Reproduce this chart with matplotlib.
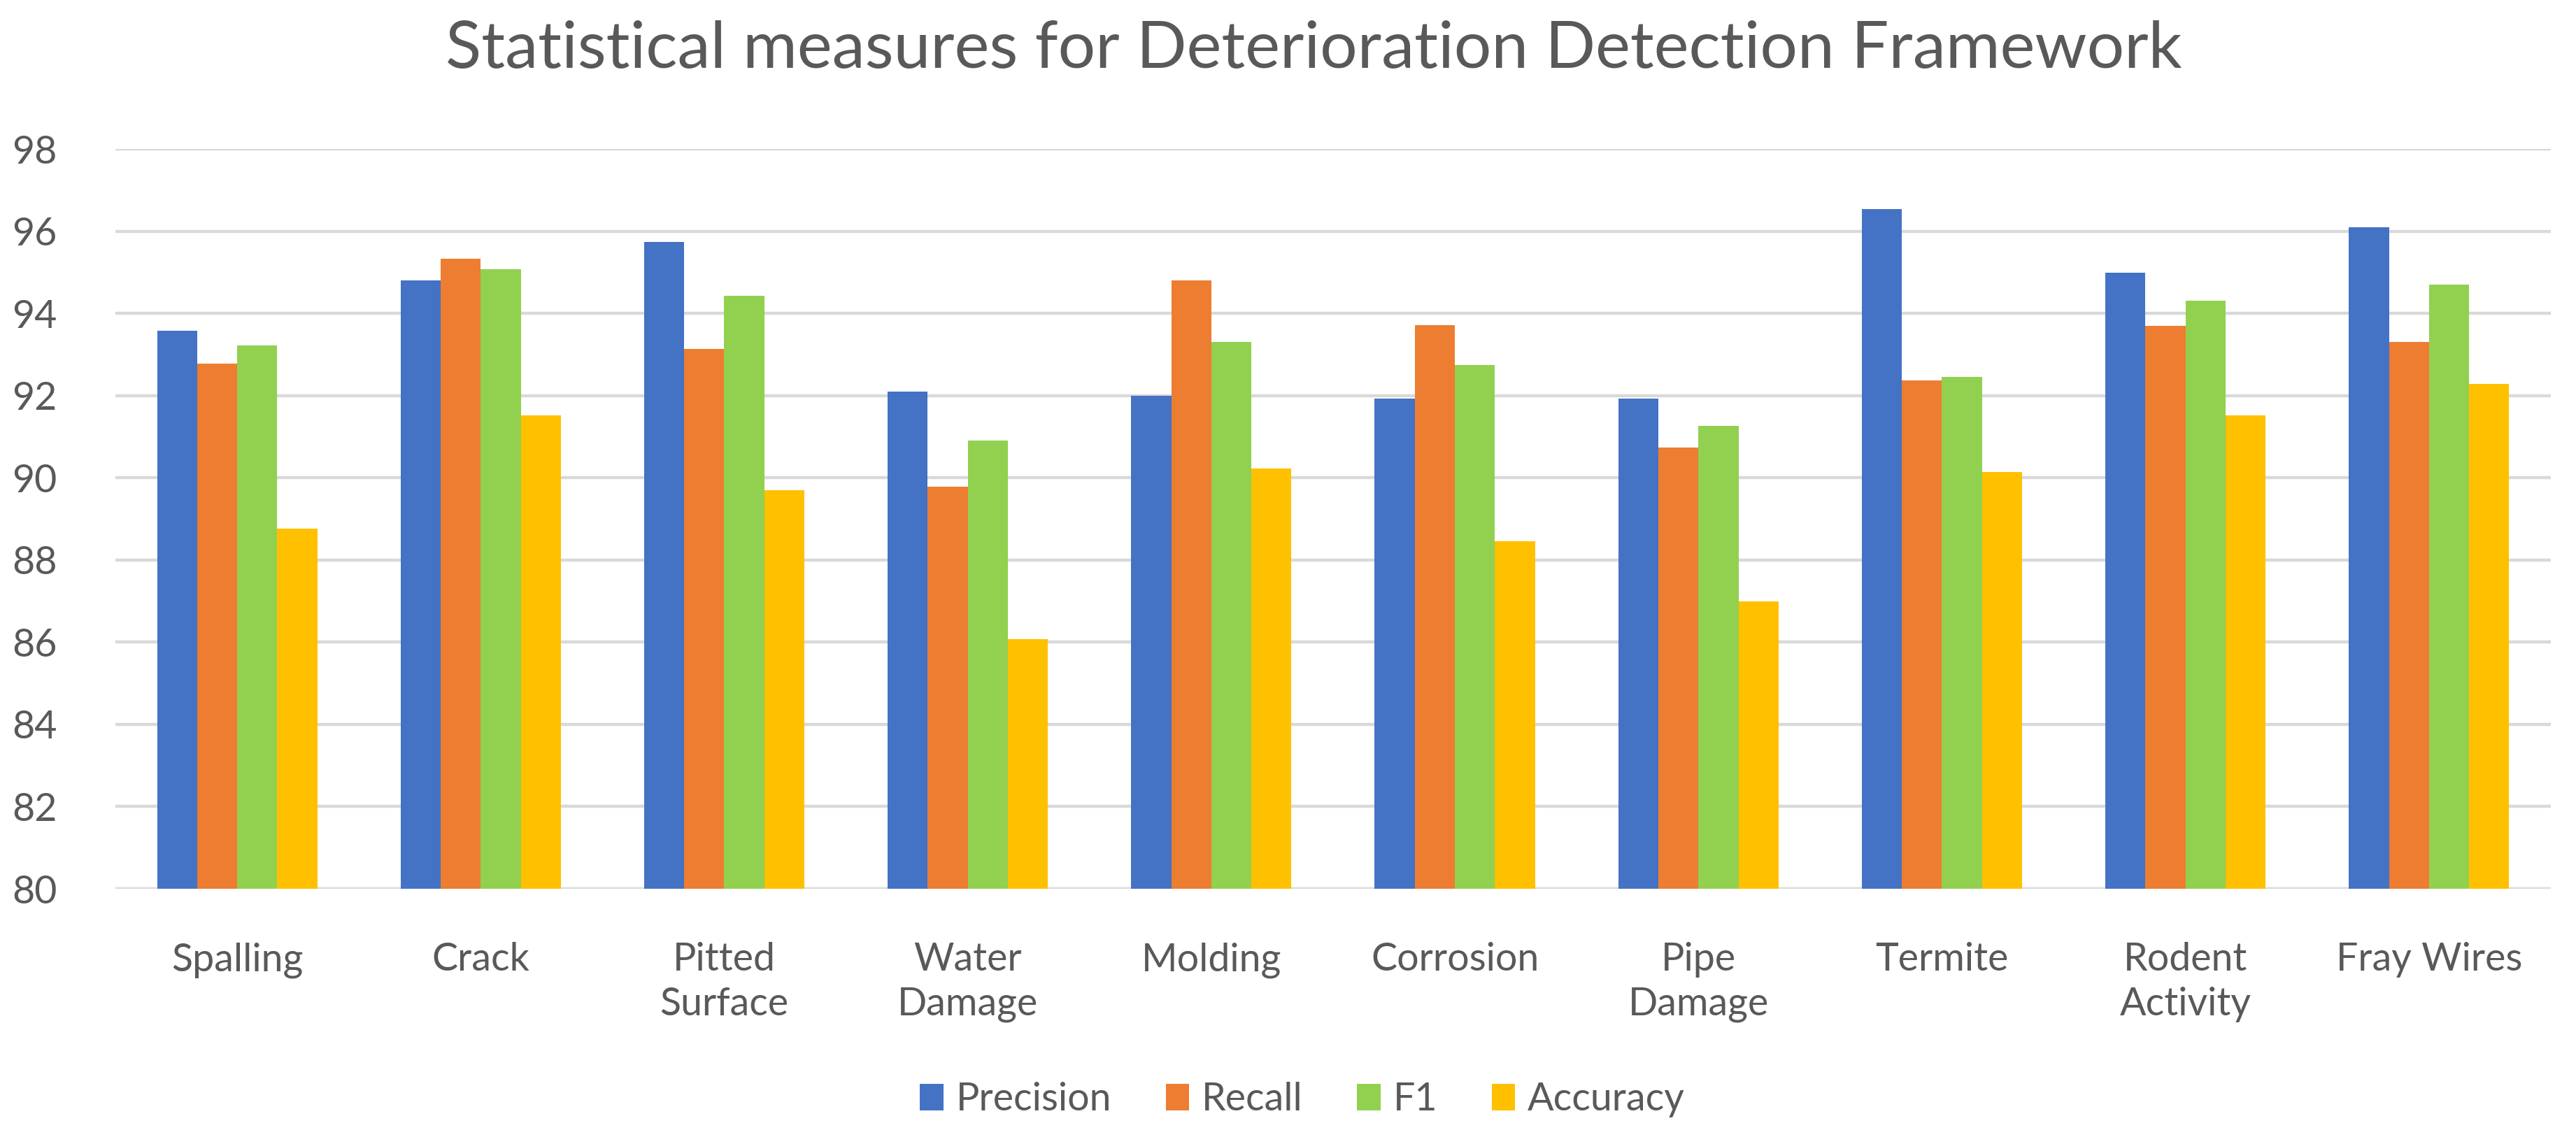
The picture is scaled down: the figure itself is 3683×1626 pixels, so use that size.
import numpy as np
import matplotlib.pyplot as plt

categories = ['Spalling', 'Crack', 'Pitted\nSurface', 'Water\nDamage', 'Molding',
              'Corrosion', 'Pipe\nDamage', 'Termite', 'Rodent\nActivity', 'Fray Wires']
precision = [93.58, 94.80, 95.74, 92.10, 92.00, 91.93, 91.93, 96.54, 94.99, 96.09]
recall = [92.77, 95.33, 93.13, 89.79, 94.80, 93.71, 90.73, 92.37, 93.70, 93.31]
f1 = [93.22, 95.08, 94.43, 90.90, 93.31, 92.75, 91.26, 92.45, 94.31, 94.70]
accuracy = [88.76, 91.52, 89.70, 86.08, 90.22, 88.45, 86.99, 90.14, 91.52, 92.28]
series_names = ['Precision', 'Recall', 'F1', 'Accuracy']
yticks = [80, 82, 84, 86, 88, 90, 92, 94, 96, 98]

plt.rcParams['font.family'] = ['Lato', 'DejaVu Sans']
text_color = '#595959'
colors = ['#4472C4', '#ED7D31', '#92D050', '#FFC000']

fig = plt.figure(figsize=(36.83, 16.26), dpi=100)
ax = fig.add_axes([0.0448, 0.2183, 0.9454, 0.6507])

x = np.arange(len(categories))
bw = 0.1645
for i, (name, vals) in enumerate(zip(series_names, [precision, recall, f1, accuracy])):
    ax.bar(x + (i - 1.5) * bw, np.array(vals) - 80, bottom=80, width=bw,
           color=colors[i], label=name, zorder=3)

ax.set_xlim(-0.5, len(categories) - 0.5)
ax.set_ylim(80, 98)
ax.set_yticks(yticks)
ax.set_xticks(x)
ax.set_xticklabels(categories, linespacing=1.3)
ax.tick_params(axis='both', length=0, labelsize=40, colors=text_color)
ax.tick_params(axis='y', pad=60)
ax.tick_params(axis='x', pad=55)
ax.grid(axis='y', color='#D9D9D9', linewidth=3.2, zorder=0)
for s in ax.spines.values():
    s.set_visible(False)

# title a touch wider than Lato's default to match the original Calibri layout
fig.text(0.51, 0.9403, 'Statistical measures for Deterioration Detection Framework',
         ha='center', va='baseline', fontsize=68, color=text_color)

fig.legend(loc='center', bbox_to_anchor=(0.5056, 0.0326), ncol=4, frameon=False,
           fontsize=40, handlelength=0.6, handleheight=0.7, handletextpad=0.32,
           columnspacing=1.4, labelcolor=text_color)

fig.savefig('out.png', dpi=100)
